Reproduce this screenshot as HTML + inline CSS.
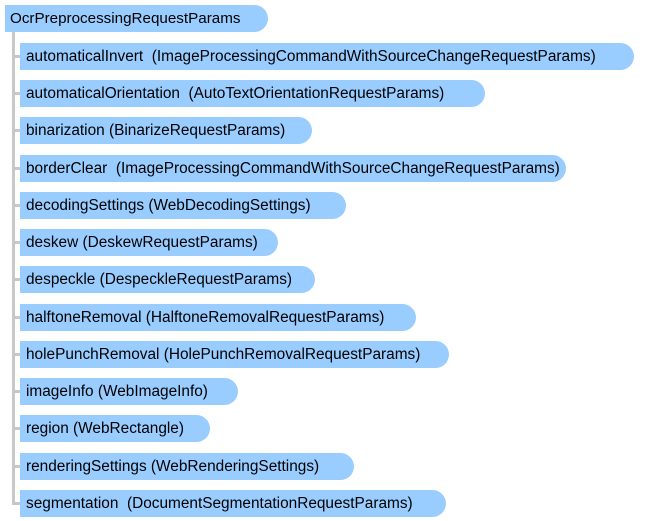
<!DOCTYPE html>
<html><head><style>
body{margin:0;width:652px;height:521px;background:#fff;position:relative;font-family:"Liberation Sans","DejaVu Sans",sans-serif;overflow:hidden}
.b{position:absolute;background:#99ccff;height:27px;line-height:27px;font-size:15.4px;color:#000;white-space:nowrap;border-radius:0 14px 14px 0;box-sizing:border-box;padding-left:6px;overflow:hidden}
.s{position:absolute;left:12px;width:8px;height:3px;background:#c8c8c8}
</style></head><body>
<div class="b" style="left:5px;top:5px;width:263px;padding-left:5px;font-size:15.2px">OcrPreprocessingRequestParams</div>
<div style="position:absolute;left:12px;top:32px;width:3px;height:472px;background:#c8c8c8"></div>
<div class="s" style="top:55px"></div><div class="b" style="left:20px;top:43px;width:614px">automaticalInvert&nbsp; (ImageProcessingCommandWithSourceChangeRequestParams)</div>
<div class="s" style="top:92px"></div><div class="b" style="left:20px;top:80px;width:465px">automaticalOrientation&nbsp; (AutoTextOrientationRequestParams)</div>
<div class="s" style="top:129px"></div><div class="b" style="left:20px;top:117px;width:292px">binarization (BinarizeRequestParams)</div>
<div class="s" style="top:167px"></div><div class="b" style="left:20px;top:155px;width:546px">borderClear&nbsp; (ImageProcessingCommandWithSourceChangeRequestParams)</div>
<div class="s" style="top:204px"></div><div class="b" style="left:20px;top:192px;width:326px">decodingSettings (WebDecodingSettings)</div>
<div class="s" style="top:241px"></div><div class="b" style="left:20px;top:229px;width:258px">deskew (DeskewRequestParams)</div>
<div class="s" style="top:278px"></div><div class="b" style="left:20px;top:266px;width:295px">despeckle (DespeckleRequestParams)</div>
<div class="s" style="top:316px"></div><div class="b" style="left:20px;top:304px;width:396px">halftoneRemoval (HalftoneRemovalRequestParams)</div>
<div class="s" style="top:353px"></div><div class="b" style="left:20px;top:341px;width:429px">holePunchRemoval (HolePunchRemovalRequestParams)</div>
<div class="s" style="top:390px"></div><div class="b" style="left:20px;top:378px;width:218px">imageInfo (WebImageInfo)</div>
<div class="s" style="top:427px"></div><div class="b" style="left:20px;top:415px;width:190px">region (WebRectangle)</div>
<div class="s" style="top:465px"></div><div class="b" style="left:20px;top:453px;width:334px">renderingSettings (WebRenderingSettings)</div>
<div class="s" style="top:502px"></div><div class="b" style="left:20px;top:490px;width:426px">segmentation&nbsp; (DocumentSegmentationRequestParams)</div>
</body></html>
